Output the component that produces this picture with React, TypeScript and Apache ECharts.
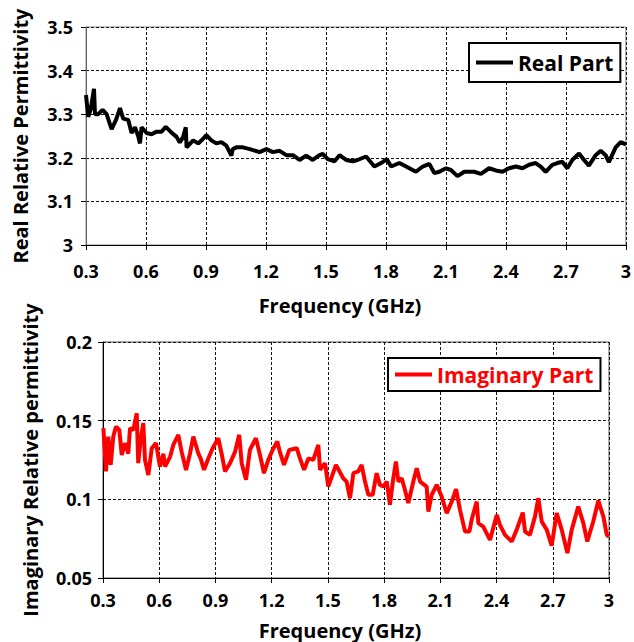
import React, { useEffect, useRef } from "react";
import * as echarts from "echarts";

const realFreq = [0.300,0.311,0.323,0.340,0.345,0.361,0.383,0.403,0.428,0.450,0.470,0.486,0.511,0.528,0.545,0.561,0.570,0.578,0.603,0.628,0.653,0.678,0.699,0.723,0.753,0.769,0.786,0.799,0.803,0.836,0.861,0.878,0.902,0.927,0.952,0.977,1.002,1.027,1.034,1.052,1.085,1.119,1.168,1.202,1.235,1.268,1.302,1.335,1.368,1.401,1.434,1.468,1.484,1.509,1.543,1.568,1.601,1.634,1.658,1.701,1.742,1.776,1.804,1.826,1.867,1.901,1.950,1.984,2.017,2.042,2.067,2.100,2.125,2.158,2.192,2.241,2.275,2.316,2.350,2.383,2.416,2.450,2.483,2.516,2.549,2.574,2.599,2.632,2.657,2.682,2.707,2.732,2.766,2.791,2.815,2.849,2.874,2.899,2.915,2.949,2.974,3.000];
const realVals = [3.344,3.294,3.31,3.358,3.30,3.30,3.31,3.30,3.266,3.287,3.314,3.29,3.287,3.257,3.27,3.25,3.233,3.27,3.257,3.254,3.26,3.26,3.271,3.26,3.248,3.235,3.248,3.27,3.224,3.24,3.233,3.24,3.252,3.24,3.233,3.236,3.228,3.205,3.22,3.224,3.224,3.22,3.213,3.22,3.213,3.216,3.206,3.206,3.195,3.205,3.195,3.206,3.209,3.197,3.192,3.206,3.195,3.192,3.195,3.203,3.18,3.188,3.197,3.18,3.188,3.18,3.168,3.18,3.186,3.165,3.168,3.176,3.172,3.158,3.168,3.168,3.163,3.176,3.171,3.168,3.176,3.18,3.176,3.184,3.188,3.18,3.168,3.184,3.188,3.191,3.176,3.195,3.21,3.195,3.182,3.206,3.216,3.206,3.19,3.224,3.236,3.231];

const imagFreq = [0.302,0.316,0.328,0.341,0.355,0.369,0.387,0.400,0.417,0.435,0.444,0.462,0.480,0.488,0.501,0.515,0.524,0.542,0.560,0.583,0.604,0.622,0.631,0.658,0.675,0.702,0.720,0.743,0.764,0.782,0.809,0.821,0.839,0.862,0.885,0.915,0.933,0.951,0.978,1.004,1.027,1.040,1.063,1.084,1.116,1.138,1.159,1.182,1.205,1.230,1.244,1.266,1.294,1.334,1.351,1.373,1.396,1.422,1.449,1.458,1.485,1.502,1.543,1.582,1.600,1.618,1.636,1.662,1.680,1.698,1.716,1.739,1.760,1.778,1.796,1.814,1.831,1.849,1.863,1.876,1.894,1.911,1.929,1.956,1.974,1.992,2.027,2.036,2.054,2.081,2.107,2.134,2.161,2.184,2.205,2.232,2.255,2.267,2.294,2.303,2.329,2.365,2.401,2.418,2.445,2.481,2.507,2.540,2.552,2.578,2.605,2.623,2.641,2.668,2.694,2.721,2.748,2.778,2.801,2.836,2.863,2.884,2.916,2.943,2.970,2.988,3.000];
const imagVals = [0.1452,0.1177,0.1399,0.1219,0.1399,0.1462,0.1441,0.1282,0.1357,0.129,0.1452,0.1441,0.1547,0.123,0.1378,0.1484,0.1251,0.1155,0.1325,0.1357,0.1208,0.129,0.1208,0.127,0.1346,0.141,0.13,0.1187,0.129,0.1399,0.129,0.126,0.1187,0.126,0.1325,0.1388,0.129,0.1177,0.123,0.13,0.141,0.123,0.1124,0.1314,0.1388,0.128,0.1166,0.1251,0.1314,0.1367,0.13,0.1219,0.1314,0.1325,0.126,0.1187,0.126,0.1251,0.1346,0.1187,0.123,0.1081,0.1219,0.1134,0.1113,0.1007,0.1166,0.1177,0.1219,0.1113,0.1029,0.1029,0.1166,0.1092,0.1081,0.1113,0.0965,0.1134,0.124,0.1113,0.1134,0.1061,0.0976,0.1113,0.1198,0.1113,0.1081,0.0922,0.1029,0.1092,0.1018,0.0912,0.0986,0.1065,0.0933,0.0795,0.0795,0.087,0.0986,0.0849,0.0827,0.0742,0.0901,0.0838,0.0774,0.0732,0.0806,0.0916,0.0795,0.0774,0.089,0.1007,0.0859,0.0806,0.0705,0.0912,0.0806,0.0658,0.0806,0.0954,0.0849,0.0732,0.0859,0.0992,0.089,0.0775,0.0763];

const xTicks = { min: 0.3, max: 3, interval: 0.3 };
const realTicks = { min: 3, max: 3.5, interval: 0.1 };
const imagTicks = { min: 0.05, max: 0.2, interval: 0.05 };

const FONT = "'Open Sans', 'DejaVu Sans', sans-serif";

export default function App() {
  const ref = useRef<HTMLDivElement>(null);
  useEffect(() => {
    if (!ref.current) return;
    const chart = echarts.init(ref.current, undefined, { renderer: "svg" });
    const fmt1 = (v: number) => String(Math.round(v * 10) / 10);
    const fmt2 = (v: number) => String(Math.round(v * 100) / 100);
    const labelStyle = { fontFamily: FONT, fontWeight: "bold", fontSize: 18, color: "#000" };
    const nameStyle = { fontFamily: FONT, fontWeight: "bold", fontSize: 20, color: "#000" };
    const split = { show: true, lineStyle: { type: [3, 2] as any, color: "#111", width: 1 } };
    const xAxisCommon = (gridIndex: number, margin: number, gap: number) => ({
      type: "value",
      gridIndex,
      ...xTicks,
      name: "Frequency (GHz)",
      nameLocation: "middle",
      nameGap: gap,
      nameTextStyle: { ...nameStyle, padding: [0, 32, 0, 0] },
      axisLine: { show: true, lineStyle: { color: "#000", width: 1 } },
      axisTick: { show: true, inside: false, length: 5, lineStyle: { color: "#000" } },
      axisLabel: { ...labelStyle, margin, formatter: fmt1 },
      splitLine: split,
    });
    chart.setOption({
      animation: false,
      backgroundColor: "#fff",
      grid: [
        { left: 86, top: 27, width: 541, height: 218, show: true, borderColor: "#888", borderWidth: 1 },
        { left: 103, top: 342, width: 506, height: 236, show: true, borderColor: "#555", borderWidth: 1 },
      ],
      xAxis: [xAxisCommon(0, 17, 50), xAxisCommon(1, 13, 42)],
      yAxis: [
        {
          type: "value",
          gridIndex: 0,
          ...realTicks,
          name: "Real Relative Permittivity",
          nameLocation: "middle",
          nameRotate: 90,
          nameGap: 56,
          nameTextStyle: nameStyle,
          axisLine: { show: true, lineStyle: { color: "#666", width: 1 } },
          axisTick: { show: true, inside: false, length: 5, lineStyle: { color: "#000" } },
          axisLabel: { ...labelStyle, margin: 13, formatter: fmt1 },
          splitLine: split,
        },
        {
          type: "value",
          gridIndex: 1,
          ...imagTicks,
          name: "Imaginary Relative permittivity",
          nameLocation: "middle",
          nameRotate: 90,
          nameGap: 63,
          nameTextStyle: nameStyle,
          axisLine: { show: true, lineStyle: { color: "#000", width: 1 } },
          axisTick: { show: true, inside: false, length: 5, lineStyle: { color: "#000" } },
          axisLabel: { ...labelStyle, margin: 11, formatter: fmt2 },
          splitLine: split,
        },
      ],
      legend: [
        {
          data: ["Real Part"],
          left: 469,
          top: 43,
          padding: [9, 7, 9, 7],
          icon: "rect",
          itemWidth: 37,
          itemHeight: 4,
          itemGap: 5,
          borderColor: "#000",
          borderWidth: 2,
          backgroundColor: "#fff",
          textStyle: { fontFamily: FONT, fontWeight: "bold", fontSize: 21, color: "#000" },
        },
        {
          data: ["Imaginary Part"],
          left: 388,
          top: 358,
          padding: [6, 7, 6, 7],
          icon: "rect",
          itemWidth: 37,
          itemHeight: 4,
          itemGap: 5,
          borderColor: "#000",
          borderWidth: 2,
          backgroundColor: "#fff",
          textStyle: { fontFamily: FONT, fontWeight: "bold", fontSize: 21, color: "#ff0000" },
        },
      ],
      series: [
        {
          name: "Real Part",
          type: "line",
          xAxisIndex: 0,
          yAxisIndex: 0,
          symbol: "none",
          showSymbol: false,
          lineStyle: { color: "#000", width: 4 },
          itemStyle: { color: "#000" },
          data: realFreq.map((f, i) => [f, realVals[i]]),
        },
        {
          name: "Imaginary Part",
          type: "line",
          xAxisIndex: 1,
          yAxisIndex: 1,
          symbol: "none",
          showSymbol: false,
          lineStyle: { color: "#ff0000", width: 4 },
          itemStyle: { color: "#ff0000" },
          data: imagFreq.map((f, i) => [f, imagVals[i]]),
        },
      ],
    });
    return () => chart.dispose();
  }, []);
  return (
    <div
      ref={ref}
      style={{ position: "absolute", left: 0, top: 0, width: 634, height: 642, background: "#fff" }}
    />
  );
}
